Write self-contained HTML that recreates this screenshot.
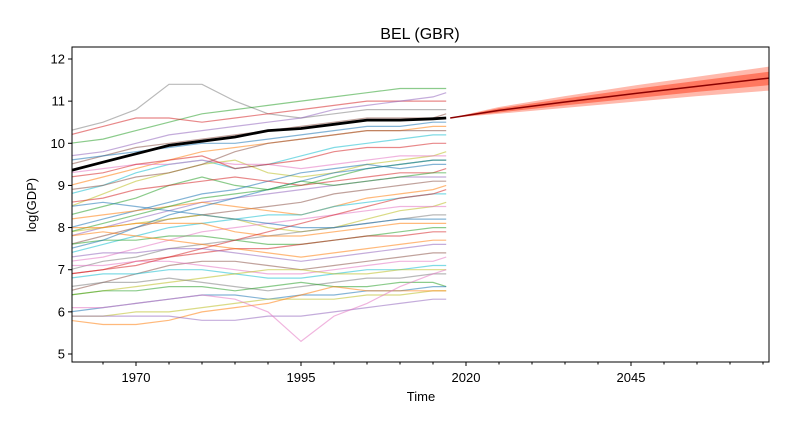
<!DOCTYPE html>
<html><head><meta charset="utf-8"><style>
body{margin:0;background:#fff}
svg text{font-family:"Liberation Sans","DejaVu Sans",sans-serif;fill:#000}
</style></head><body>
<svg id="chart" width="794" height="429" viewBox="0 0 794 429">
<defs><clipPath id="clip"><rect x="72" y="47" width="697" height="315"/></clipPath></defs>
<text x="420" y="39" font-size="16" text-anchor="middle">BEL (GBR)</text>
<text x="0" y="0" transform="translate(36,205) rotate(-90)" font-size="13" text-anchor="middle">log(GDP)</text>
<text x="421" y="401" font-size="13" text-anchor="middle">Time</text>
<g id="plot"></g>
</svg>
<script>
const sampleYears=[1960,1965,1970,1975,1980,1985,1990,1995,2000,2005,2010,2015,2017];
const series=[
[10.3,10.5,10.8,11.4,11.4,11.0,10.7,10.6,10.7,10.8,10.8,10.8,10.8],
[10.0,10.1,10.3,10.5,10.7,10.8,10.9,11.0,11.1,11.2,11.3,11.3,11.3],
[10.2,10.4,10.6,10.6,10.5,10.6,10.7,10.8,10.9,11.0,11.0,11.0,11.0],
[9.7,9.8,10.0,10.2,10.3,10.4,10.5,10.6,10.8,10.9,11.0,11.1,11.2],
[9.5,9.7,9.9,10.0,10.1,10.2,10.3,10.4,10.5,10.6,10.6,10.6,10.7],
[9.6,9.7,9.8,9.9,10.0,10.0,10.1,10.2,10.3,10.4,10.4,10.5,10.5],
[9.0,9.2,9.4,9.6,9.8,9.9,10.0,10.1,10.2,10.3,10.3,10.4,10.4],
[8.8,9.0,9.3,9.5,9.6,9.4,9.5,9.7,9.9,10.0,10.1,10.2,10.2],
[8.5,8.8,9.1,9.3,9.5,9.6,9.3,9.2,9.3,9.5,9.6,9.7,9.8],
[9.3,9.4,9.5,9.5,9.6,9.5,9.5,9.4,9.5,9.6,9.7,9.7,9.7],
[8.3,8.5,8.7,9.0,9.2,9.0,8.9,9.0,9.2,9.4,9.5,9.6,9.6],
[8.0,8.2,8.4,8.6,8.8,8.9,9.1,9.3,9.4,9.5,9.4,9.5,9.5],
[8.6,8.7,8.9,9.0,9.1,9.2,9.1,9.0,9.1,9.2,9.3,9.3,9.4],
[7.8,8.0,8.2,8.4,8.6,8.7,8.8,8.9,9.0,9.1,9.2,9.2,9.2],
[7.6,7.8,8.0,8.2,8.3,8.4,8.5,8.6,8.8,8.9,9.0,9.1,9.1],
[8.2,8.3,8.4,8.5,8.6,8.5,8.4,8.3,8.5,8.7,8.8,8.9,9.0],
[7.4,7.6,7.8,8.0,8.1,8.2,8.3,8.3,8.5,8.6,8.7,8.8,8.8],
[7.9,8.0,8.1,8.2,8.3,8.2,8.0,7.9,8.0,8.2,8.4,8.5,8.6],
[7.2,7.3,7.5,7.7,7.9,8.0,8.1,8.2,8.3,8.4,8.5,8.5,8.5],
[7.0,7.2,7.3,7.5,7.6,7.7,7.8,7.9,8.0,8.1,8.2,8.3,8.3],
[8.5,8.6,8.5,8.4,8.3,8.2,8.1,8.0,8.0,8.1,8.2,8.2,8.2],
[7.6,7.7,7.7,7.8,7.8,7.7,7.6,7.6,7.7,7.8,7.9,8.0,8.0],
[6.9,7.0,7.2,7.3,7.4,7.5,7.5,7.6,7.7,7.8,7.8,7.9,7.9],
[7.8,7.9,7.8,7.7,7.6,7.5,7.4,7.3,7.4,7.5,7.6,7.7,7.7],
[7.3,7.4,7.4,7.5,7.5,7.4,7.3,7.2,7.3,7.4,7.5,7.6,7.6],
[6.5,6.7,6.9,7.1,7.2,7.2,7.1,7.0,7.1,7.2,7.3,7.4,7.4],
[7.1,7.1,7.2,7.2,7.1,7.0,6.9,6.9,7.0,7.1,7.2,7.2,7.3],
[6.8,6.9,6.9,7.0,7.0,6.9,6.8,6.8,6.9,7.0,7.0,7.1,7.1],
[6.4,6.5,6.6,6.7,6.8,6.9,7.0,7.0,6.9,6.9,7.0,7.0,7.0],
[6.6,6.7,6.7,6.8,6.7,6.6,6.5,6.6,6.7,6.8,6.8,6.9,6.9],
[6.4,6.5,6.5,6.6,6.6,6.5,6.6,6.7,6.6,6.6,6.7,6.7,6.6],
[6.0,6.1,6.2,6.3,6.4,6.4,6.3,6.4,6.4,6.5,6.5,6.6,6.6],
[5.9,5.9,6.0,6.0,6.1,6.2,6.3,6.3,6.3,6.4,6.4,6.5,6.5],
[5.8,5.7,5.7,5.8,6.0,6.1,6.2,6.4,6.6,6.5,6.5,6.5,6.5],
[5.9,5.9,5.9,5.9,5.8,5.8,5.9,5.9,6.0,6.1,6.2,6.3,6.3],
[6.1,6.1,6.2,6.3,6.4,6.3,6.0,5.3,5.9,6.2,6.6,6.9,7.0],
[9.2,9.3,9.5,9.6,9.7,9.4,9.5,9.6,9.8,9.9,9.9,10.0,10.0],
[8.9,9.0,9.2,9.3,9.5,9.8,10.0,10.1,10.2,10.3,10.3,10.3,10.3],
[7.5,7.7,8.0,8.3,8.5,8.7,8.9,9.1,9.3,9.4,9.5,9.6,9.6],
[7.9,8.1,8.3,8.5,8.7,8.8,8.9,9.1,9.0,9.1,9.2,9.3,9.3],
[8.0,8.0,8.1,8.1,8.1,7.9,7.8,7.8,7.9,8.0,8.1,8.1,8.1],
[6.9,7.0,7.1,7.3,7.5,7.7,7.9,8.1,8.3,8.5,8.7,8.8,8.9]
];
const seriesColors=["#7f7f7f","#2ca02c","#d62728","#9467bd","#8c564b","#1f77b4","#ff7f0e","#17becf","#bcbd22","#e377c2","#2ca02c","#1f77b4","#d62728","#9467bd","#8c564b","#ff7f0e","#17becf","#bcbd22","#e377c2","#7f7f7f","#1f77b4","#2ca02c","#d62728","#ff7f0e","#9467bd","#8c564b","#e377c2","#17becf","#bcbd22","#7f7f7f","#2ca02c","#1f77b4","#bcbd22","#ff7f0e","#9467bd","#e377c2","#d62728","#8c564b","#1f77b4","#2ca02c","#ff7f0e","#d62728"];
const meanValues=[9.35,9.55,9.75,9.95,10.05,10.15,10.3,10.35,10.45,10.55,10.55,10.58,10.6];
const fcYears=[2017.6,2025,2035,2045,2055,2066];
const fcMedian=[10.6,10.78,10.98,11.17,11.35,11.55];
const fcInnerLo=[10.6,10.73,10.9,11.06,11.22,11.38];
const fcInnerHi=[10.6,10.83,11.06,11.28,11.48,11.7];
const fcOuterLo=[10.6,10.7,10.84,10.98,11.12,11.25];
const fcOuterHi=[10.6,10.86,11.12,11.36,11.58,11.82];
const yTicks=[5,6,7,8,9,10,11,12];
const xTicks=[1970,1995,2020,2045];

const L=72,R=769,T=47,B=362;
const xs=y=>136+(y-1970)*6.6;
const ys=v=>354-(v-5)*(354-59)/7;
const NS="http://www.w3.org/2000/svg";
const plot=document.getElementById('plot');
const data=document.createElementNS(NS,'g');
data.setAttribute('clip-path','url(#clip)');
plot.appendChild(data);
function mk(tag,attrs,parent){const e=document.createElementNS(NS,tag);for(const k in attrs)e.setAttribute(k,attrs[k]);(parent||plot).appendChild(e);return e;}
const pts=(xa,va)=>xa.map((x,i)=>xs(x).toFixed(1)+","+ys(va[i]).toFixed(1)).join(" ");

series.forEach((s,i)=>{
  const p=mk('polyline',{points:pts(sampleYears,s),fill:"none",stroke:seriesColors[i%seriesColors.length],"stroke-width":1.2,"stroke-opacity":0.55},data);
  
  
});
const m=mk('polyline',{points:pts(sampleYears,meanValues),fill:"none",stroke:"#000","stroke-width":2.8},data);



function band(lo,hi,col,op,name){
  const top=fcYears.map((x,i)=>xs(x)+","+ys(hi[i])).join(" ");
  const bot=fcYears.map((x,i)=>xs(x)+","+ys(lo[i])).reverse().join(" ");
  const p=mk('polygon',{points:top+" "+bot,fill:col,"fill-opacity":op},data);
  
  
}
band(fcOuterLo,fcOuterHi,"#ff6347",0.45,'forecast-outer-band');
band(fcInnerLo,fcInnerHi,"#ff6347",0.75,'forecast-inner-band');
const f=mk('polyline',{points:pts(fcYears,fcMedian),fill:"none",stroke:"#8b0000","stroke-width":1.5},data);



const frame=mk('rect',{x:L,y:T,width:R-L,height:B-T,fill:"none",stroke:"#000","stroke-width":1});


yTicks.forEach(v=>{
  mk('line',{x1:L-4,x2:L,y1:ys(v),y2:ys(v),stroke:"#000"});
  const t=mk('text',{x:L-7,y:ys(v)+4.5,"font-size":13,"text-anchor":"end"});
  t.textContent=v;
  
  
});
for(let y=1965;y<=2065;y+=5){mk('line',{x1:xs(y),x2:xs(y),y1:B,y2:B+2.5,stroke:"#000"});}
xTicks.forEach(v=>{
  mk('line',{x1:xs(v),x2:xs(v),y1:B,y2:B+4,stroke:"#000"});
  const t=mk('text',{x:xs(v),y:B+20,"font-size":13,"text-anchor":"middle"});
  t.textContent=v;
  
  
});
</script>
</body></html>
